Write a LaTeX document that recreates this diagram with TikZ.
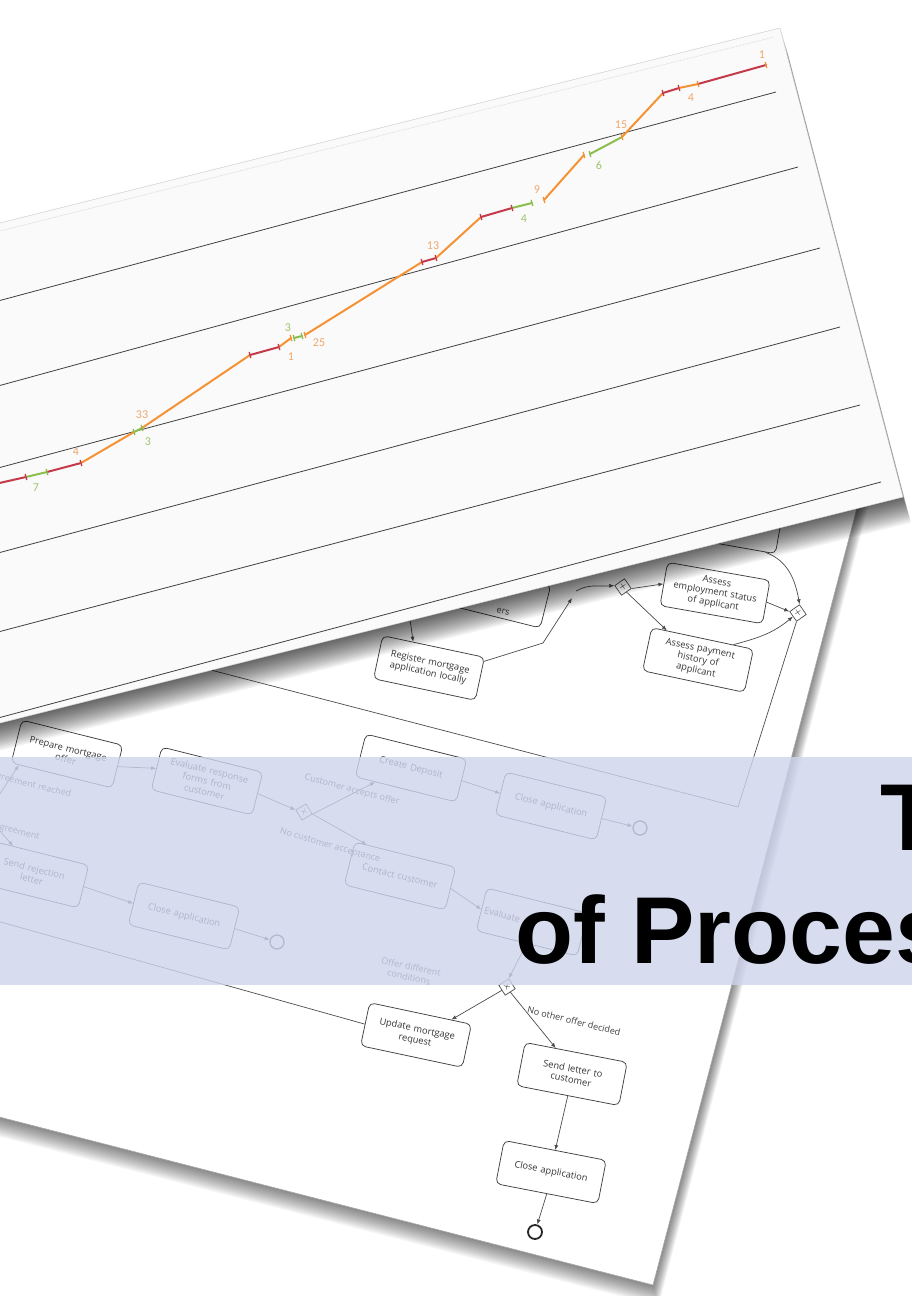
\documentclass[tikz,border=0pt]{standalone}
\usepackage{fontspec}
\setmainfont{Liberation Sans}
\newfontfamily\bpmnfont{Open Sans}
\newfontfamily\chartfont{Carlito}
\usetikzlibrary{shapes.geometric,arrows.meta,calc}
\definecolor{cred}{RGB}{196,58,74}
\definecolor{corange}{RGB}{244,146,52}
\definecolor{cgreen}{RGB}{140,190,78}
\definecolor{lorange}{RGB}{238,168,108}
\definecolor{lgreen}{RGB}{158,198,108}
\definecolor{bandc}{RGB}{206,212,236}
\definecolor{chartbg}{RGB}{250,250,250}
\newcommand\chtick[2]{\draw[#1,line width=1.3pt] (#2) ++(-0.8,-3) -- ++(1.6,6);}
\begin{document}
\begin{tikzpicture}[x=1pt,y=-1pt,
  task/.style={draw=black!75, line width=0.75pt, fill=white, rounded corners=5pt,
    minimum width=104pt, minimum height=44pt, text width=98pt, inner sep=2pt,
    align=center, text=black!80, font=\bpmnfont\fontsize{9.3}{11}\selectfont, rotate=#1},
  task/.default=-14,
  gw/.style={diamond, draw=black!70, fill=white, line width=0.7pt, minimum size=17pt,
    inner sep=0pt, font=\fontsize{10}{10}\selectfont, rotate=#1},
  gw/.default=-10,
  endev/.style={circle, draw=black!70, line width=1.3pt, minimum size=14pt, inner sep=0pt, fill=white},
  flow/.style={draw=black!70, line width=0.7pt, -{Latex[length=5pt,width=4pt]}},
  plain/.style={draw=black!70, line width=0.7pt},
  lbl/.style={font=\bpmnfont\fontsize{9}{10.5}\selectfont, text=black!75, inner sep=1pt, align=center, rotate=#1},
  lbl/.default=-14,
  grid/.style={draw=black!75, line width=0.8pt},
  nlab/.style={font=\chartfont\fontsize{12}{12}\selectfont, inner sep=0pt},
  ttl/.style={anchor=base west, inner sep=0pt, font=\fontsize{95}{95}\selectfont\bfseries, text=black}
]
\useasboundingbox (0,0) rectangle (912,1296);
\fill[white] (0,0) rectangle (912,1296);
\clip (0,0) rectangle (912,1296);

% ---------------- BPMN sheet ----------------
\foreach \s in {1,...,14}{
  \fill[black,opacity=0.038,shift={(0.4*\s,1.5*\s)}] (-20,300) -- (880,420) -- (653,1285) -- (-20,1112) -- cycle;
}
\filldraw[fill=white,draw=black!35,line width=0.6pt] (-20,300) -- (880,420) -- (653,1285) -- (-20,1112) -- cycle;

% upper part
\node[task=-12] (reg) at (429,668) {Register mortgage\\application locally};
\node[task] (ers) at (495,594) {};
\node[lbl] (erst) at (503,612) {ers};
\node[task=-10] (trb) at (728,523) {};
\node[gw] (g1) at (623,587) {$\times$};
\node[task=-10] (emp) at (715,593) {Assess\\employment status\\of applicant};
\node[task=-12] (pay) at (698,660) {Assess payment\\history of\\applicant};
\node[gw] (g2) at (798,613) {$\times$};

\coordinate (rin) at (409,612);
\coordinate (j1) at (543,643);
\coordinate (j2) at (572,598);
\coordinate (j3) at (576,591);
\coordinate (lc) at (738,807);
\coordinate (lend) at (180,662);
\draw[flow] (rin) -- ($(reg.north west)!0.3!(reg.north east)$);
\draw[flow] ($(reg.north east)!0.1!(reg.south east)$) -- (j1) -- (j2);
\draw[flow] (j3) to[out=30,in=185] (g1.west);
\draw[flow] (g1.east) -- (emp.west);
\draw[flow] (g1.south east) -- ($(pay.north west)!0.15!(pay.north east)$);
\draw[flow] (emp.east) -- (g2.west);
\draw[flow] ($(pay.north)!0.6!(pay.north east)$) to[out=15,in=-140] (g2.south west);
\draw[flow] ($(trb.south east)!0.1!(trb.south west)$) to[out=-20,in=100] (g2.north);
\draw[plain] (g2.south) -- (lc) -- (lend);

% middle part
\node[task] (pmo) at (67,754) {Prepare mortgage\\offer};
\node[task] (evr) at (207,781) {Evaluate response\\forms from\\customer};
\node[gw=-14] (g3) at (304,812) {$+$};
\node[task] (cd) at (411,768) {Create Deposit};
\node[task] (ca1) at (551,806) {Close application};
\node[endev] (e1) at (640,828) {};
\node[task] (cc) at (400,876) {Contact customer};
\node[task, align=left] (ev2) at (532,922) {Evaluate};
\node[task] (srl) at (33,874) {Send rejection\\letter};
\node[task] (ca2) at (184,916) {Close application};
\node[endev] (e2) at (277,942) {};
\node[gw=-12] (g4) at (507,987) {$+$};
\node[task=-12] (uml) at (416,1035) {Update mortgage\\request};
\node[task=-11] (slc) at (572,1074) {Send letter to\\customer};
\node[task=-11] (ca3) at (551,1172) {Close application};
\node[endev, line width=1.8pt, draw=black!85] (e3) at (535,1232) {};

\node[lbl] (la) at (31,785) {Agreement reached};
\node[lbl] (lb) at (10,830) {No agreement};
\node[lbl=-15] (lcu) at (352,790) {Customer accepts offer};
\node[lbl=-16] (ld) at (330,846) {No customer acceptance};
\node[lbl=-12] (le) at (410,972) {Offer different\\conditions};
\node[lbl] (lf) at (574,1021) {No other offer decided};

\coordinate (gx) at (-14,815);
\coordinate (uout) at (-10,919);
\draw[flow] (gx) -- ($(pmo.south west)!0.08!(pmo.south east)$);
\draw[flow] (gx) -- ($(srl.north west)!0.25!(srl.north east)$);
\draw[flow] (pmo.east) -- (evr.west);
\draw[flow] (evr.east) -- (g3.west);
\draw[flow] (g3.east) -- ($(cd.south west)!0.2!(cd.south east)$);
\draw[flow] (g3.east) -- ($(cc.north west)!0.12!(cc.north east)$);
\draw[flow] (cd.east) -- (ca1.west);
\draw[flow] (ca1.east) -- (e1);
\draw[flow] (cc.east) -- (ev2.west);
\draw[flow] (ev2.south) -- (g4.north);
\draw[flow] (g4.south west) -- ($(uml.north)!0.6!(uml.north east)$);
\draw[flow] (g4.south east) -- ($(slc.north west)!0.3!(slc.north east)$);
\draw[flow] (slc.south) -- (ca3.north);
\draw[flow] (ca3.south) -- (e3);
\draw[flow] (srl.east) -- (ca2.west);
\draw[flow] (ca2.east) -- (e2);
\draw[plain] (uml.west) -- (uout);

% ---------------- chart sheet ----------------
\foreach \s in {1,...,16}{
  \fill[black,opacity=0.05,shift={(0.5*\s,1.6*\s)}] (-20,228) -- (780,28) -- (903,497) -- (-20,728) -- cycle;
}
\filldraw[fill=chartbg,draw=black!18,line width=0.5pt] (-20,228) -- (780,28) -- (903,497) -- (-20,728) -- cycle;
\draw[black!15, densely dotted, line width=0.8pt] (-20,236) -- (774,37);

\draw[grid] (-2,301) -- (776,92);
\draw[grid] (-2,386) -- (798,167);
\draw[grid] (-2,468) -- (820,248);
\draw[grid] (-2,553) -- (840,327);
\draw[grid] (-2,632) -- (860,405);
\draw[grid] (-2,718) -- (881,482);

\coordinate (d0) at (-5,484);
\coordinate (d1) at (26,477);
\coordinate (d2) at (47,472);
\coordinate (d3) at (81,463);
\coordinate (d4) at (134,432);
\coordinate (d5) at (142,428);
\coordinate (d6) at (250,355);
\coordinate (d7) at (279,347);
\coordinate (d8) at (291,338);
\coordinate (d9) at (294,338);
\coordinate (d10) at (302,336);
\coordinate (d11) at (305,335);
\coordinate (d12) at (422,262);
\coordinate (d13) at (436,258);
\coordinate (d14) at (481,217);
\coordinate (d15) at (512,208);
\coordinate (d16) at (532,203);
\coordinate (d17) at (544,200);
\coordinate (d18) at (584,155);
\coordinate (d19) at (590,154);
\coordinate (d20) at (622,137);
\coordinate (d21) at (663,93);
\coordinate (d22) at (679,88);
\coordinate (d23) at (698,84);
\coordinate (d24) at (766,65);

\begin{scope}[line width=2pt, line cap=round]
\draw[cred] (d0) -- (d1);
\draw[cgreen] (d1) -- (d2);
\draw[cred] (d2) -- (d3);
\draw[corange] (d3) -- (d4);
\draw[cgreen] (d4) -- (d5);
\draw[corange] (d5) -- (d6);
\draw[cred] (d6) -- (d7);
\draw[corange] (d7) -- (d8);
\draw[cgreen] (d9) -- (d10);
\draw[corange] (d11) -- (d12);
\draw[cred] (d12) -- (d13);
\draw[corange] (d13) -- (d14);
\draw[cred] (d14) -- (d15);
\draw[cgreen] (d15) -- (d16);
\draw[corange] (d17) -- (d18);
\draw[cgreen] (d19) -- (d20);
\draw[corange] (d20) -- (d21);
\draw[cred] (d21) -- (d22);
\draw[corange] (d22) -- (d23);
\draw[cred] (d23) -- (d24);
\end{scope}
\chtick{cred}{d1} \chtick{cgreen}{d2} \chtick{cred}{d3} \chtick{cgreen}{d4}
\chtick{cgreen}{d5} \chtick{cred}{d6} \chtick{cred}{d7} \chtick{corange}{d8}
\chtick{cgreen}{d9} \chtick{cgreen}{d10} \chtick{corange}{d11} \chtick{cred}{d12}
\chtick{cred}{d13} \chtick{cred}{d14} \chtick{cred}{d15} \chtick{cgreen}{d16}
\chtick{corange}{d17} \chtick{corange}{d18} \chtick{cgreen}{d19} \chtick{corange}{d20}
\chtick{cred}{d21} \chtick{cred}{d22} \chtick{corange}{d23} \chtick{corange}{d24}

\node[nlab, text=lgreen] (n1) at (36,488) {7};
\node[nlab, text=lorange] (n2) at (76,452) {4};
\node[nlab, text=lorange] (n3) at (142,415) {33};
\node[nlab, text=lgreen] (n4) at (148,442) {3};
\node[nlab, text=lorange] (n5) at (291,357) {1};
\node[nlab, text=lgreen] (n6) at (288,328) {3};
\node[nlab, text=lorange] (n7) at (319,343) {25};
\node[nlab, text=lorange] (n8) at (433,246) {13};
\node[nlab, text=lgreen] (n9) at (524,219) {4};
\node[nlab, text=lorange] (n10) at (537,190) {9};
\node[nlab, text=lgreen] (n11) at (599,165) {6};
\node[nlab, text=lorange] (n12) at (621,125) {15};
\node[nlab, text=lorange] (n13) at (691,98) {4};
\node[nlab, text=lorange] (n14) at (762,55) {1};

% ---------------- band and title ----------------
\fill[bandc,opacity=0.8] (0,757) rectangle (912,985);
\node[ttl] (t1) at (880,850) {T};
\node[ttl] (t2) at (515,963) {of Proces};
\end{tikzpicture}
\end{document}
